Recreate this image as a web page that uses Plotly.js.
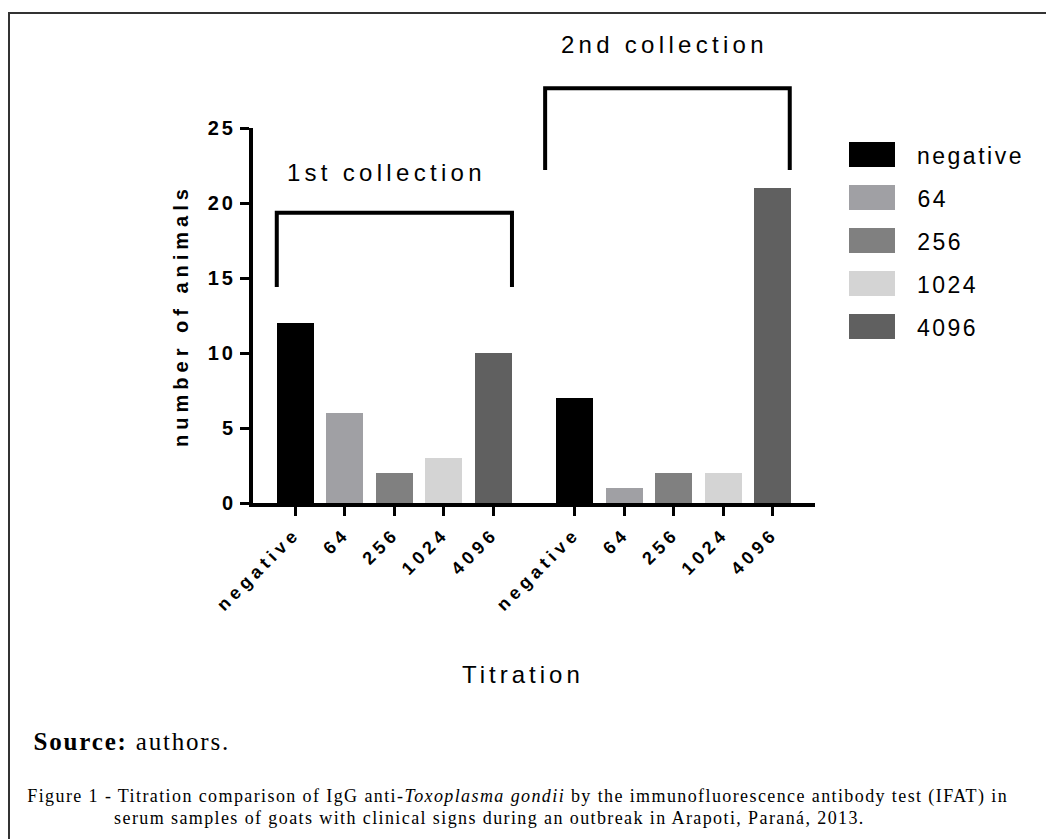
<!DOCTYPE html>
<html>
<head>
<meta charset="utf-8">
<script src="https://cdn.plot.ly/plotly-3.0.1.min.js"></script>
<style>
  html, body { margin: 0; padding: 0; background: #fff; }
  #chart { width: 1046px; height: 839px; }
  .ytick text { letter-spacing: 3px; }
  .xtick text { letter-spacing: 4.5px; }
  .g-ytitle text { letter-spacing: 5px; }
  .annotation[data-index="0"] text, .annotation[data-index="1"] text { letter-spacing: 4.3px; }
  .annotation[data-index="2"] text, .annotation[data-index="3"] text,
  .annotation[data-index="4"] text, .annotation[data-index="5"] text,
  .annotation[data-index="6"] text { letter-spacing: 2.5px; }
  .annotation[data-index="7"] text { letter-spacing: 1.8px; }
  .annotation[data-index="8"] text, .annotation[data-index="9"] text { letter-spacing: 1.4px; }
  .annotation[data-index="10"] text { letter-spacing: 4px; }
</style>
</head>
<body>
<div id="chart"></div>
<script>
// ---- data ----
const titers = ['negative', '64', '256', '1024', '4096'];
const collections = ['1st collection', '2nd collection'];
const firstCollection = [12, 6, 2, 3, 10];
const secondCollection = [7, 1, 2, 2, 21];
const titerColors = ['#000000', '#a0a0a4', '#808080', '#d4d4d4', '#606060'];
const yTicks = [0, 5, 10, 15, 20, 25];

// ---- layout helpers ----
const L = 253, R = 815, T = 128, B = 503;   // plot area in pixels
const groupOffset = 5.65;                   // position of second group
const xRange = [-0.85, groupOffset + 4 + 0.85];
const yMax = 25;
const px2paperX = px => (px - L) / (R - L);
const px2paperY = py => (B - py) / (B - T);
const plainLen = s => s.replace(/<[^>]+>/g, '').length;
const SANS = 'Liberation Sans, Arial, sans-serif';
const SERIF = 'Liberation Serif, Times New Roman, serif';

const traces = titers.map((t, i) => ({
  type: 'bar',
  name: t,
  x: [i, i + groupOffset],
  y: [firstCollection[i], secondCollection[i]],
  width: 0.75,
  marker: { color: titerColors[i], line: { width: 0 } },
  showlegend: false,
  hoverinfo: 'x+y'
}));

const tickvals = [], ticktext = [];
[0, groupOffset].forEach(off => titers.forEach((t, i) => { tickvals.push(i + off); ticktext.push(t); }));

// brackets (x in data units, y in data units -> paper)
const brackets = [
  { x0: -0.37, x1: 4.38, top: 19.35, bottom: 14.4 },
  { x0: 5.05, x1: 9.99, top: 27.65, bottom: 22.2 }
];
const shapes = brackets.map(b => ({
  type: 'path', xref: 'x', yref: 'paper',
  path: `M ${b.x0},${b.bottom / yMax} L ${b.x0},${b.top / yMax} L ${b.x1},${b.top / yMax} L ${b.x1},${b.bottom / yMax}`,
  line: { color: '#000', width: 4 }
}));

// manual legend swatches
const legendTop = 142, legendPitch = 43, swH = 25;
titers.forEach((t, i) => {
  const y0 = legendTop + i * legendPitch;
  shapes.push({
    type: 'rect', xref: 'paper', yref: 'paper',
    x0: px2paperX(849), x1: px2paperX(895),
    y0: px2paperY(y0 + swH), y1: px2paperY(y0),
    fillcolor: titerColors[i], line: { width: 0 }
  });
});

// figure border (left + top)
shapes.push({
  type: 'path', xref: 'paper', yref: 'paper',
  path: `M ${px2paperX(9)},${px2paperY(845)} L ${px2paperX(9)},${px2paperY(13)} L ${px2paperX(1050)},${px2paperY(13)}`,
  line: { color: '#333', width: 2 }
});

// centred annotation (compensate trailing letter-spacing)
function centerAnn(text, cx, cy, font, sp) {
  return { text, xref: 'paper', yref: 'paper', x: px2paperX(cx + sp / 2), y: px2paperY(cy),
           xanchor: 'center', yanchor: 'middle', showarrow: false, font };
}
// left-aligned annotation: the box is measured without letter-spacing, so shift by n*sp/2
function leftAnn(text, left, cy, font, sp) {
  return { text, xref: 'paper', yref: 'paper', x: px2paperX(left + plainLen(text) * sp / 2), y: px2paperY(cy),
           xanchor: 'left', yanchor: 'middle', showarrow: false, font };
}

const annotations = [];
annotations.push(centerAnn(collections[0], 384, 172, { family: SANS, size: 24, color: '#000' }, 4.3));
annotations.push(centerAnn(collections[1], 662, 45, { family: SANS, size: 24, color: '#000' }, 4.3));
titers.forEach((t, i) => {
  annotations.push(leftAnn(t, 915, legendTop + i * legendPitch + swH / 2 + 1,
    { family: SANS, size: 23, color: '#000' }, 2.5));
});
annotations.push(leftAnn('<b>Source:</b> authors.', 32, 741, { family: SERIF, size: 25, color: '#000' }, 1.8));
annotations.push(leftAnn('Figure 1 - Titration comparison of IgG anti-<i>Toxoplasma gondii</i> by the immunofluorescence antibody test (IFAT) in',
  25, 796, { family: SERIF, size: 18, color: '#000' }, 1.4));
annotations.push(leftAnn('serum samples of goats with clinical signs during an outbreak in Arapoti, Paraná, 2013.',
  112, 818, { family: SERIF, size: 18, color: '#000' }, 1.4));
annotations.push(centerAnn('Titration', 521, 674, { family: SANS, size: 24, color: '#000' }, 4));

const layout = {
  width: 1046, height: 839,
  margin: { l: L, r: 1046 - R, t: T, b: 839 - B, pad: 0 },
  paper_bgcolor: '#fff', plot_bgcolor: '#fff',
  showlegend: false,
  bargap: 0,
  xaxis: {
    range: xRange, tickmode: 'array', tickvals: tickvals, ticktext: ticktext,
    tickangle: -45, ticks: 'outside', ticklen: 9, tickwidth: 3, tickcolor: '#000',
    showline: true, linewidth: 4, linecolor: '#000', showgrid: false, zeroline: false,
    tickfont: { family: SANS, size: 18, color: '#000', weight: 'bold' },
    automargin: false, fixedrange: true
  },
  yaxis: {
    range: [0, yMax], tickmode: 'array', tickvals: yTicks,
    ticks: 'outside', ticklen: 9, tickwidth: 3, tickcolor: '#000',
    showline: true, linewidth: 4, linecolor: '#000', showgrid: false, zeroline: false,
    tickfont: { family: SANS, size: 20, color: '#000', weight: 'bold' },
    title: { text: 'number of animals', standoff: 15,
             font: { family: SANS, size: 20, color: '#000', weight: 'bold' } },
    automargin: false, fixedrange: true
  },
  shapes: shapes,
  annotations: annotations
};

Plotly.newPlot('chart', traces, layout, { displayModeBar: false, staticPlot: true });
</script>
</body>
</html>
